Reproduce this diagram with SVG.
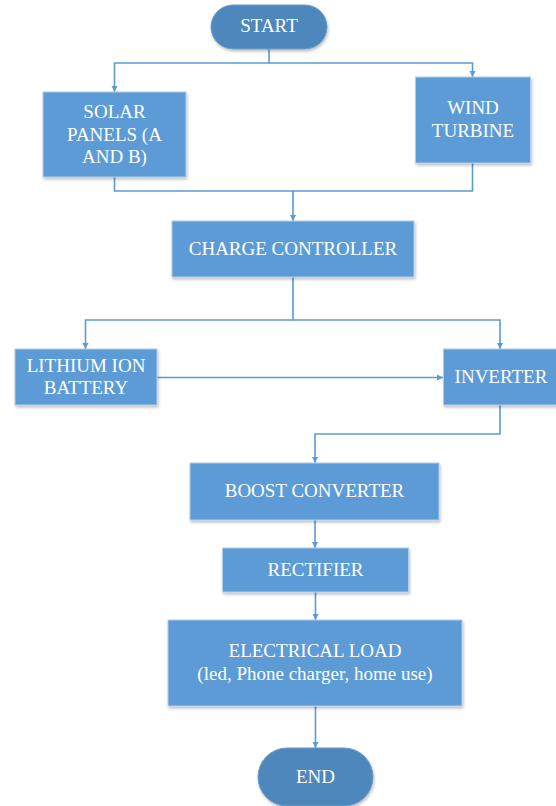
<svg xmlns="http://www.w3.org/2000/svg" width="556" height="806" viewBox="0 0 556 806">
<defs>
<style>
.box{fill:#5b9bd5;stroke:#b3cbe8;stroke-width:1;filter:url(#sh)}
.term{fill:#4e87bb;stroke:#6d9cc8;stroke-width:1;filter:url(#sh)}
text{font-family:'Liberation Serif','Times New Roman',Times,'DejaVu Serif',serif;font-size:19px;fill:#ffffff;text-anchor:middle}
.c{fill:none;stroke:#5b9bd5;stroke-width:1.6;marker-end:url(#ah)}
</style>
<marker id="ah" viewBox="0 0 10 10" refX="10" refY="5" markerWidth="6.5" markerHeight="6.5" markerUnits="userSpaceOnUse" orient="auto">
<path d="M0,0 L10,5 L0,10 z" fill="#5b9bd5"/>
</marker>
<filter id="sh" x="-10%" y="-10%" width="125%" height="130%">
<feGaussianBlur in="SourceAlpha" stdDeviation="1.5"/>
<feOffset dx="1" dy="2" result="b"/>
<feComponentTransfer><feFuncA type="linear" slope="0.25"/></feComponentTransfer>
<feMerge><feMergeNode/><feMergeNode in="SourceGraphic"/></feMerge>
</filter>
</defs>
<rect width="556" height="806" fill="#ffffff"/>
<g id="connectors">
<path class="c" d="M269,49 V63 H114.5 V92"/>
<path class="c" d="M269,63 H472.5 V77"/>
<path class="c" d="M114.5,177 V191 H472.5 V163 M293,191 V221"/>
<path class="c" d="M293,277 V320 H85.5 V349"/>
<path class="c" d="M293,320 H500 V349"/>
<path class="c" d="M157,377.5 H443"/>
<path class="c" d="M500,405 V434 H315 V463"/>
<path class="c" d="M315,520 V548"/>
<path class="c" d="M315.5,592 V620"/>
<path class="c" d="M315.5,706 V748"/>
</g>
<g id="start">
<rect class="term" x="211" y="5" width="116" height="44" rx="22"/>
<text font-family="Liberation Serif, serif" x="269" y="32">START</text>
</g>
<g id="solar">
<rect class="box" x="43" y="92" width="143" height="85"/>
<text font-family="Liberation Serif, serif" x="114.5" y="118">SOLAR</text>
<text font-family="Liberation Serif, serif" x="114.5" y="141">PANELS (A</text>
<text font-family="Liberation Serif, serif" x="114.5" y="163">AND B)</text>
</g>
<g id="wind">
<rect class="box" x="415.5" y="77" width="115" height="86"/>
<text font-family="Liberation Serif, serif" x="473" y="114">WIND</text>
<text font-family="Liberation Serif, serif" x="473" y="137">TURBINE</text>
</g>
<g id="charge">
<rect class="box" x="172" y="221" width="242" height="56"/>
<text font-family="Liberation Serif, serif" x="293" y="255">CHARGE CONTROLLER</text>
</g>
<g id="battery">
<rect class="box" x="15" y="349" width="142" height="56"/>
<text font-family="Liberation Serif, serif" x="86" y="372">LITHIUM ION</text>
<text font-family="Liberation Serif, serif" x="86" y="394">BATTERY</text>
</g>
<g id="inverter">
<rect class="box" x="443.5" y="349" width="113" height="56"/>
<text font-family="Liberation Serif, serif" x="501" y="383">INVERTER</text>
</g>
<g id="boost">
<rect class="box" x="190" y="463" width="249" height="57"/>
<text font-family="Liberation Serif, serif" x="314.5" y="497">BOOST CONVERTER</text>
</g>
<g id="rectifier">
<rect class="box" x="222.5" y="548" width="186" height="44"/>
<text font-family="Liberation Serif, serif" x="315.5" y="576">RECTIFIER</text>
</g>
<g id="load">
<rect class="box" x="168" y="620" width="294" height="86"/>
<text font-family="Liberation Serif, serif" x="315" y="657">ELECTRICAL LOAD</text>
<text font-family="Liberation Serif, serif" x="315" y="680">(led, Phone charger, home use)</text>
</g>
<g id="end">
<rect class="term" x="258" y="748" width="115" height="58" rx="29"/>
<text font-family="Liberation Serif, serif" x="315.5" y="783">END</text>
</g>
</svg>
